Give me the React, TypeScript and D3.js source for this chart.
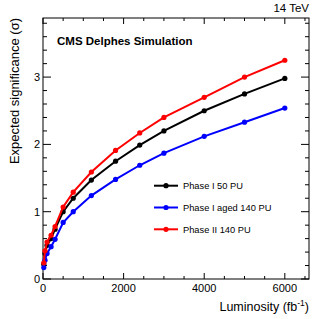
import React from "react";
import * as d3 from "d3";

const lumi = [20, 50, 100, 200, 300, 500, 750, 1200, 1800, 2400, 3000, 4000, 5000, 6000];
const phase1_50 = [0.22, 0.38, 0.5, 0.6, 0.74, 1.0, 1.2, 1.47, 1.75, 1.99, 2.2, 2.5, 2.75, 2.98];
const phase1aged_140 = [0.17, 0.28, 0.38, 0.48, 0.59, 0.84, 1.0, 1.24, 1.48, 1.69, 1.87, 2.12, 2.33, 2.54];
const phase2_140 = [0.24, 0.42, 0.55, 0.65, 0.78, 1.07, 1.29, 1.59, 1.91, 2.17, 2.4, 2.7, 3.0, 3.25];

const seriesNames = ["Phase I 50 PU", "Phase I aged 140 PU", "Phase II 140 PU"];
const seriesColors = ["#000000", "#0000ff", "#ff0000"];
const xTickLabels = [0, 2000, 4000, 6000];
const yTickLabels = [0, 1, 2, 3];

const W = 332, H = 319;
const L = 43, R = 309, T = 18, B = 279;

export default function App() {
  const x = d3.scaleLinear().domain([0, 6600]).range([L, R]);
  const y = d3.scaleLinear().domain([0, 3.878]).range([B, T]);
  const line = d3.line<[number, number]>().x(d => x(d[0])).y(d => y(d[1]));
  const all = [phase1_50, phase1aged_140, phase2_140];
  const xMinor = d3.range(0, 6600, 500);
  const yMinor = d3.range(0, 3.85, 0.2);
  const font = "'Liberation Sans', Arial, Helvetica, sans-serif";
  return (
    <svg width={W} height={H} style={{ position: "absolute", left: 0, top: 0, background: "#fff" }} fontFamily={font}>
      <rect x={0} y={0} width={W} height={H} fill="#fff" />
      {/* frame */}
      <rect x={L} y={T} width={R - L} height={B - T} fill="none" stroke="#000" strokeWidth={1} />
      {/* x ticks */}
      {xMinor.map(v => {
        const major = v % 2000 === 0;
        const len = major ? 6 : 3;
        return (
          <g key={"xt" + v}>
            <line x1={x(v)} x2={x(v)} y1={B} y2={B - len} stroke="#000" />
            <line x1={x(v)} x2={x(v)} y1={T} y2={T + len} stroke="#000" />
          </g>
        );
      })}
      {yMinor.map(v => {
        const major = Math.abs(v - Math.round(v)) < 1e-6;
        const len = major ? 8 : 4;
        return (
          <g key={"yt" + v.toFixed(1)}>
            <line x1={L} x2={L + len} y1={y(v)} y2={y(v)} stroke="#000" />
            <line x1={R} x2={R - len} y1={y(v)} y2={y(v)} stroke="#000" />
          </g>
        );
      })}
      {xTickLabels.map(v => (
        <text key={"xl" + v} x={x(v)} y={292} fontSize={11} textAnchor="middle">{v}</text>
      ))}
      {yTickLabels.map(v => (
        <text key={"yl" + v} x={40} y={y(v) + 4} fontSize={11} textAnchor="end">{v}</text>
      ))}
      {/* axis titles */}
      <text x={R} y={311} fontSize={12.5} textAnchor="end">
        Luminosity (fb<tspan dy={-5} fontSize={8.5}>-1</tspan><tspan dy={5}>)</tspan>
      </text>
      <text transform={`translate(19,${T}) rotate(-90)`} fontSize={13} textAnchor="end">Expected significance (σ)</text>
      <text x={R} y={12} fontSize={11.5} textAnchor="end">14 TeV</text>
      <text x={57} y={45} fontSize={11.5} fontWeight="bold">CMS Delphes Simulation</text>
      {/* series */}
      {all.map((s, i) => {
        const pts = lumi.map((l, j) => [l, s[j]] as [number, number]);
        return (
          <g key={"s" + i}>
            <path d={line(pts) || ""} fill="none" stroke={seriesColors[i]} strokeWidth={2} />
            {pts.map((p, j) => (
              <circle key={j} cx={x(p[0])} cy={y(p[1])} r={2.6} fill={seriesColors[i]} />
            ))}
          </g>
        );
      })}
      {/* legend */}
      {seriesNames.map((n, i) => {
        const ly = 185.7 + i * 21.8;
        return (
          <g key={"lg" + i}>
            <line x1={154} x2={178} y1={ly} y2={ly} stroke={seriesColors[i]} strokeWidth={2} />
            <circle cx={166} cy={ly} r={2.6} fill={seriesColors[i]} />
            <text x={183} y={ly + 3.5} fontSize={9.3}>{n}</text>
          </g>
        );
      })}
    </svg>
  );
}
